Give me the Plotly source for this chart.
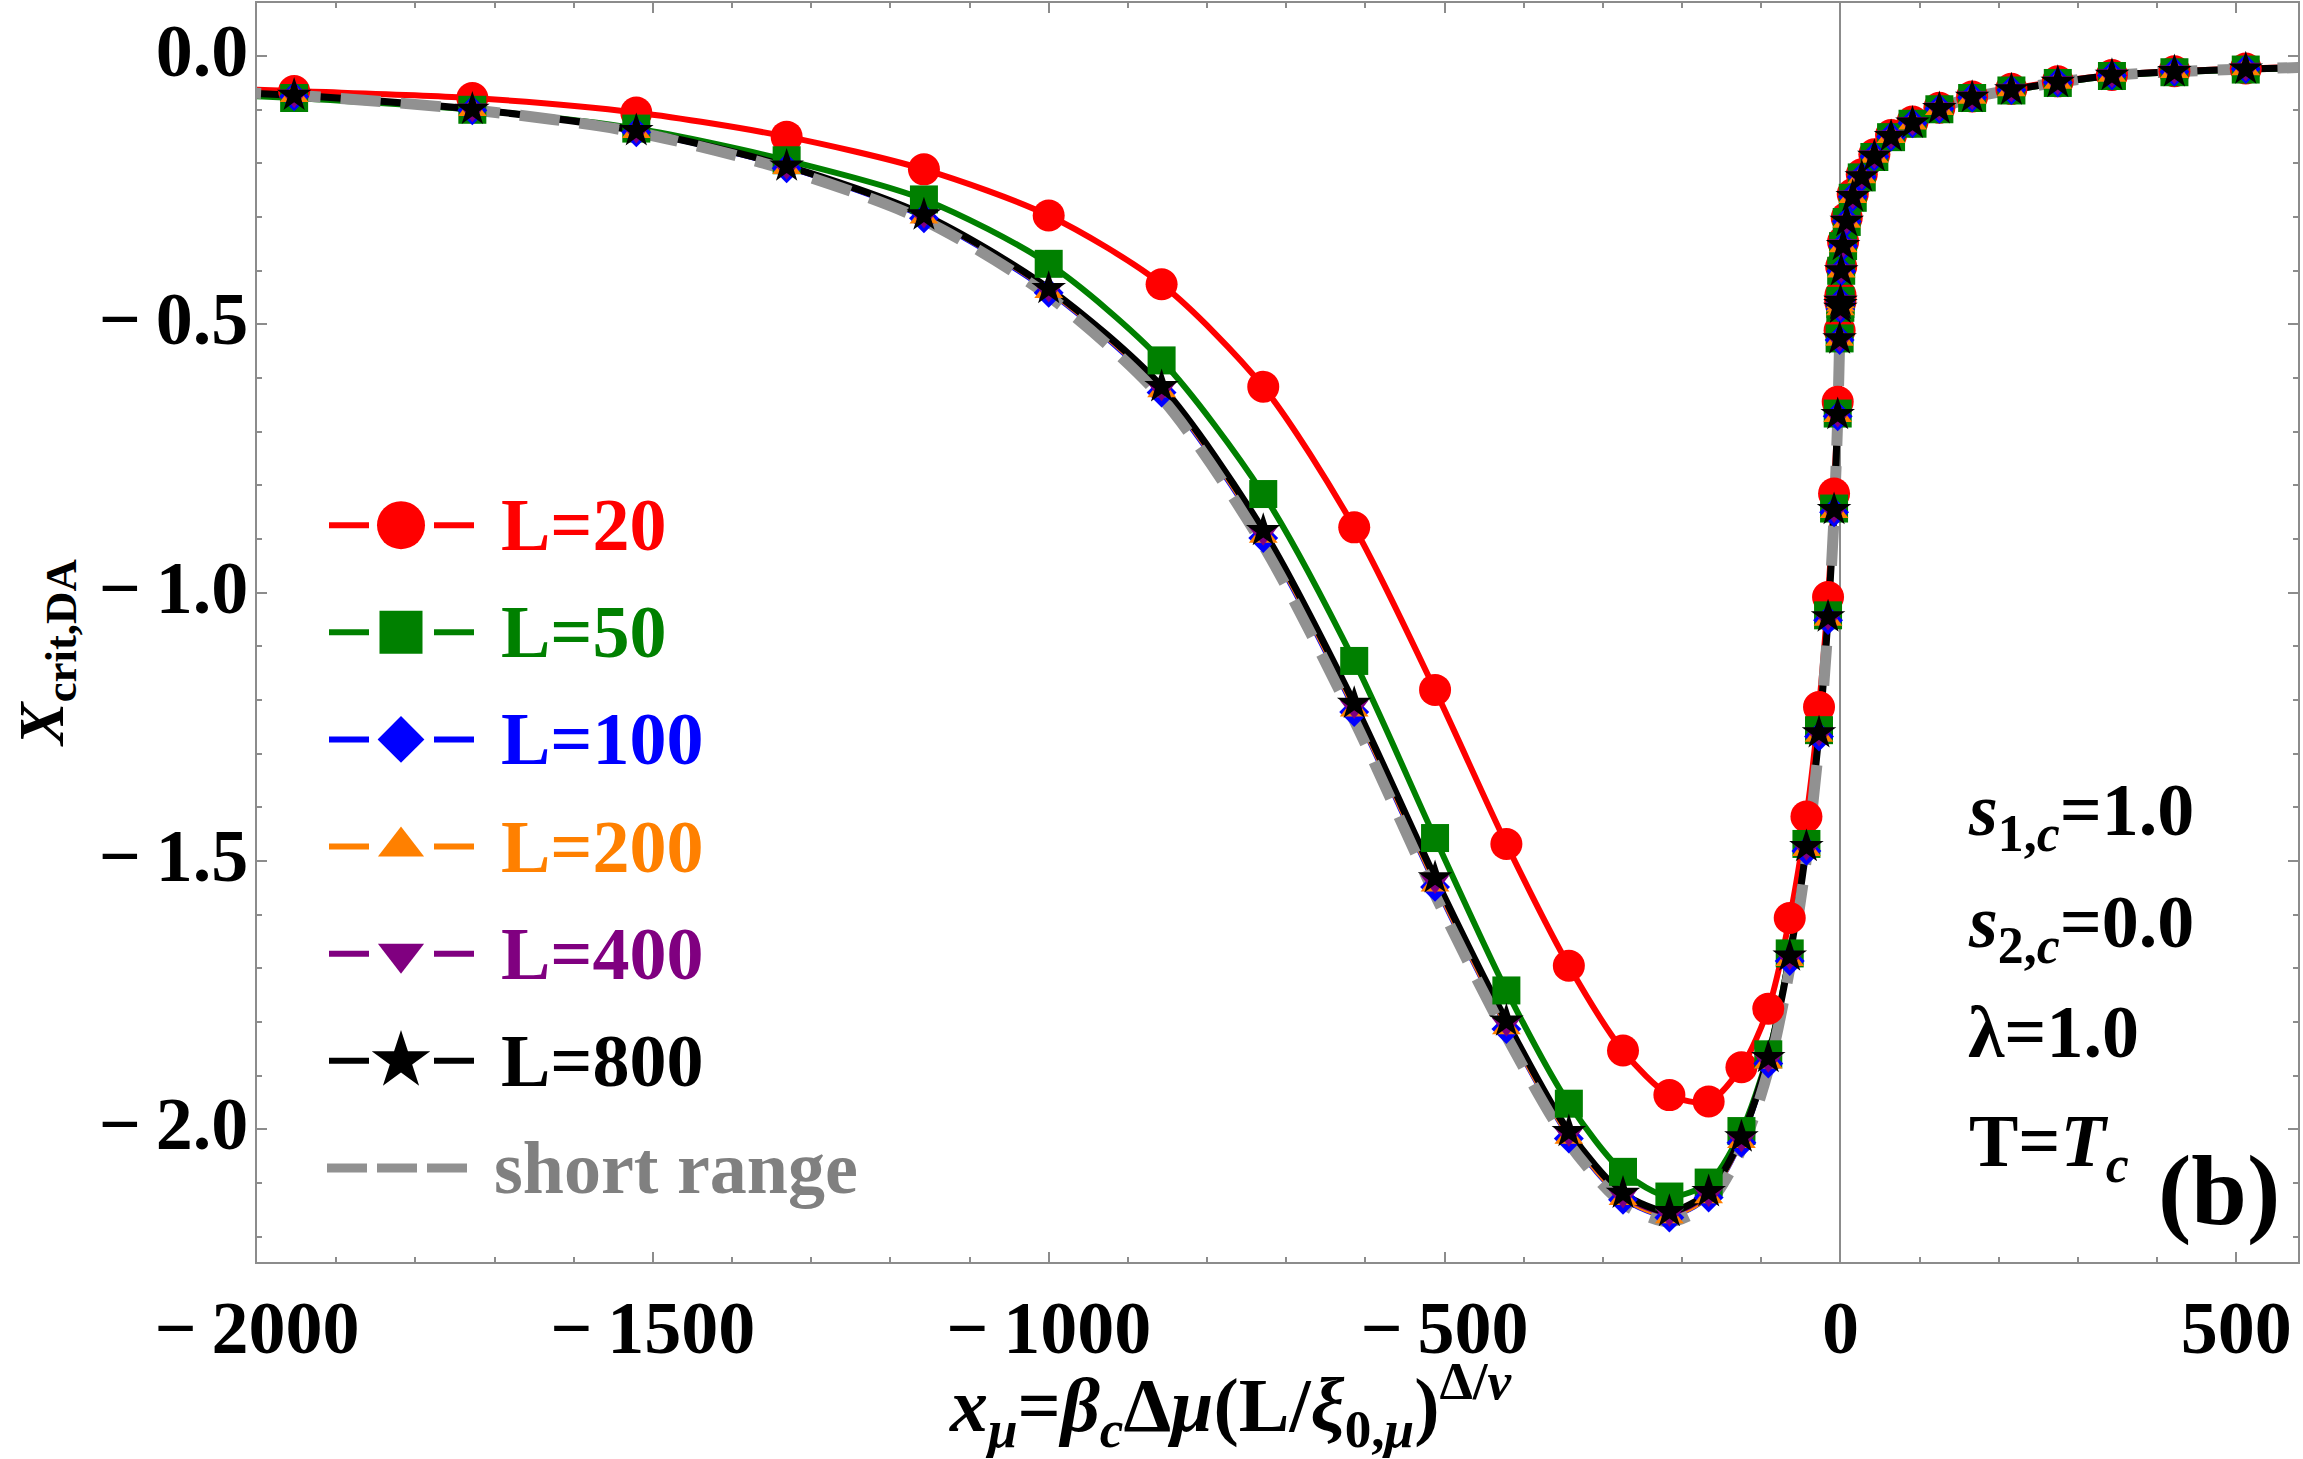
import plotly.graph_objects as go

# ---------------- data ----------------
x_mu = [-2197.0, -1953.1, -1728.0, -1520.9, -1331.0, -1157.6, -1000.0, -857.4, -729.0, -614.1,
        -512.0, -421.9, -343.0, -274.6, -216.0, -166.4, -125.0, -91.1, -64.0, -42.9,
        -27.0, -15.6, -8.0, -3.4, -1.0, -0.1, 0.0, 0.1,
        1.0, 3.4, 8.0, 15.6, 27.0, 42.9, 64.0, 91.1, 125.0, 166.4, 216.0, 274.6, 343.0, 421.9, 512.0, 614.1]

y_L20 = [-0.052, -0.065, -0.078, -0.105, -0.150, -0.211, -0.297, -0.425, -0.616, -0.878,
         -1.181, -1.468, -1.695, -1.853, -1.936, -1.948, -1.884, -1.775, -1.606, -1.417,
         -1.213, -1.008, -0.815, -0.644, -0.511, -0.458, -0.451, -0.445,
         -0.392, -0.346, -0.301, -0.257, -0.220, -0.183, -0.147, -0.122, -0.096, -0.075, -0.061, -0.047, -0.035, -0.028, -0.023, -0.019]
y_L50 = [-0.060, -0.078, -0.100, -0.135, -0.194, -0.267, -0.387, -0.567, -0.816, -1.127,
         -1.457, -1.741, -1.952, -2.079, -2.125, -2.099, -2.003, -1.860, -1.672, -1.468,
         -1.256, -1.042, -0.843, -0.666, -0.526, -0.469, -0.462, -0.456,
         -0.400, -0.354, -0.309, -0.264, -0.226, -0.188, -0.151, -0.126, -0.099, -0.078, -0.064, -0.050, -0.037, -0.030, -0.025, -0.021]
y_L100 = [-0.059, -0.075, -0.101, -0.142, -0.209, -0.302, -0.441, -0.627, -0.898, -1.222,
          -1.548, -1.813, -2.017, -2.131, -2.164, -2.127, -2.025, -1.877, -1.686, -1.481,
          -1.268, -1.051, -0.850, -0.671, -0.529, -0.471, -0.464, -0.458,
          -0.401, -0.354, -0.308, -0.262, -0.225, -0.187, -0.150, -0.125, -0.098, -0.077, -0.063, -0.049, -0.036, -0.029, -0.024, -0.020]
y_L200 = [-0.059, -0.074, -0.100, -0.141, -0.208, -0.300, -0.439, -0.624, -0.895, -1.219,
          -1.545, -1.811, -2.015, -2.129, -2.163, -2.126, -2.023, -1.875, -1.684, -1.479,
          -1.266, -1.050, -0.849, -0.670, -0.528, -0.471, -0.464, -0.458,
          -0.401, -0.354, -0.308, -0.262, -0.225, -0.187, -0.150, -0.125, -0.098, -0.077, -0.063, -0.049, -0.036, -0.029, -0.024, -0.020]
y_L400 = [-0.058, -0.074, -0.100, -0.140, -0.207, -0.298, -0.436, -0.620, -0.889, -1.212,
          -1.538, -1.804, -2.009, -2.124, -2.158, -2.121, -2.019, -1.871, -1.680, -1.476,
          -1.263, -1.047, -0.847, -0.669, -0.528, -0.470, -0.463, -0.457,
          -0.400, -0.353, -0.308, -0.262, -0.225, -0.187, -0.150, -0.125, -0.098, -0.077, -0.063, -0.049, -0.036, -0.029, -0.024, -0.020]
y_L800 = [-0.058, -0.073, -0.099, -0.139, -0.205, -0.296, -0.433, -0.616, -0.884, -1.206,
          -1.531, -1.798, -2.004, -2.119, -2.153, -2.116, -2.014, -1.866, -1.677, -1.473,
          -1.261, -1.045, -0.845, -0.668, -0.527, -0.470, -0.463, -0.457,
          -0.400, -0.353, -0.308, -0.262, -0.225, -0.187, -0.150, -0.125, -0.098, -0.077, -0.063, -0.049, -0.036, -0.029, -0.024, -0.020]
y_short = [-0.058, -0.073, -0.100, -0.142, -0.212, -0.306, -0.447, -0.637, -0.912, -1.238,
           -1.563, -1.826, -2.026, -2.138, -2.172, -2.137, -2.037, -1.890, -1.700, -1.495,
           -1.280, -1.060, -0.857, -0.676, -0.532, -0.472, -0.465, -0.459,
           -0.402, -0.355, -0.309, -0.263, -0.225, -0.187, -0.150, -0.125, -0.098, -0.077, -0.063, -0.049, -0.036, -0.029, -0.024, -0.020]

series_names = ["L=20", "L=50", "L=100", "L=200", "L=400", "L=800"]
series_values = [y_L20, y_L50, y_L100, y_L200, y_L400, y_L800]
short_name = "short range"

x_tick_vals = [-2000, -1500, -1000, -500, 0, 500]
x_tick_text = ["\u2212\u20092000", "\u2212\u20091500", "\u2212\u20091000", "\u2212\u2009500", "0", "500"]
y_tick_vals = [-2.0, -1.5, -1.0, -0.5, 0.0]
y_tick_text = ["\u2212\u20092.0", "\u2212\u20091.5", "\u2212\u20091.0", "\u2212\u20090.5", "0.0"]

# ---------------- styles / layout ----------------
W, H = 2303, 1459
PLOT_L, PLOT_R, PLOT_T, PLOT_B = 257, 2298, 1, 1262
FONT = "Liberation Serif"
FRAME = "rgb(140,140,140)"

colors = ["#ff0000", "#008000", "#0000ff", "#ff8000", "#800080", "#000000"]
symbols = ["circle", "square", "diamond", "triangle-up", "triangle-down", "star"]
msizes = [32, 28, 23, 25, 25, 26]
lwidths = [6, 6, 3, 3, 4, 7]
leg_msizes = [48, 43, 36, 40, 40, 44]
GRAY = "rgb(145,145,145)"

def px_x(x):
    return (x - PLOT_L) / (PLOT_R - PLOT_L)

def px_y(y):
    return (PLOT_B - y) / (PLOT_B - PLOT_T)

fig = go.Figure()

# curves
for name, yv, c, w in zip(series_names, series_values, colors, lwidths):
    fig.add_trace(go.Scatter(x=x_mu, y=yv, mode="lines", name=name,
                             line=dict(color=c, width=w, shape="spline", smoothing=0.8),
                             hoverinfo="skip"))
fig.add_trace(go.Scatter(x=x_mu, y=y_short, mode="lines", name=short_name,
                         line=dict(color=GRAY, width=11, dash="40px,20px", shape="spline", smoothing=0.8)))
# markers
for name, yv, c, s, ms in zip(series_names, series_values, colors, symbols, msizes):
    fig.add_trace(go.Scatter(x=x_mu, y=yv, mode="markers", name=name,
                             marker=dict(color=c, symbol=s, size=ms, line=dict(width=0))))

# ---------------- custom legend (pixel-space overlay axes) ----------------
LEG_ROW0, LEG_DY = 524, 107.3
LEG_SEG = [(329, 369), (434, 474)]
LEG_MX = 401
LEG_TX = 499
LEG_FONT = 74
for i, (name, c, s, ms) in enumerate(zip(series_names, colors, symbols, leg_msizes)):
    ry = LEG_ROW0 + i * LEG_DY
    fig.add_trace(go.Scatter(x=[LEG_SEG[0][0], LEG_SEG[0][1], None, LEG_SEG[1][0], LEG_SEG[1][1]],
                             y=[ry, ry, None, ry, ry], mode="lines", xaxis="x2", yaxis="y2",
                             line=dict(color=c, width=6), hoverinfo="skip"))
    fig.add_trace(go.Scatter(x=[LEG_MX], y=[ry], mode="markers", xaxis="x2", yaxis="y2",
                             marker=dict(color=c, symbol=s, size=ms, line=dict(width=0)), hoverinfo="skip"))
    fig.add_annotation(x=px_x(LEG_TX), y=px_y(ry), xref="paper", yref="paper", text="<b>%s</b>" % name,
                       showarrow=False, xanchor="left", yanchor="middle",
                       font=dict(family=FONT, size=LEG_FONT, color=c))
ry = LEG_ROW0 + 6 * LEG_DY
fig.add_trace(go.Scatter(x=[327, 467], y=[ry, ry], mode="lines", xaxis="x2", yaxis="y2",
                         line=dict(color=GRAY, width=9, dash="40px,10px"), hoverinfo="skip"))
fig.add_annotation(x=px_x(492), y=px_y(ry), xref="paper", yref="paper", text="<b>%s</b>" % short_name,
                   showarrow=False, xanchor="left", yanchor="middle",
                   font=dict(family=FONT, size=LEG_FONT, color="rgb(128,128,128)"))

# ---------------- parameter annotations ----------------
params = [
    ("<b><i>s</i><sub>1,<i>c</i></sub>=1.0</b>", 1966, 815),
    ("<b><i>s</i><sub>2,<i>c</i></sub>=0.0</b>", 1966, 927),
    ("<b>\u03bb=1.0</b>", 1966, 1032),
    ("<b>T=<i>T</i><sub><i>c</i></sub></b>", 1967, 1146),
]
for t, xx, yy in params:
    fig.add_annotation(x=px_x(xx), y=px_y(yy), xref="paper", yref="paper", text=t, showarrow=False,
                       xanchor="left", yanchor="middle", font=dict(family=FONT, size=74, color="black"))
fig.add_annotation(x=px_x(2219), y=px_y(1190), xref="paper", yref="paper", text="<b>(b)</b>", showarrow=False,
                   xanchor="center", yanchor="middle", font=dict(family=FONT, size=100, color="black"))

# axis titles
fig.add_annotation(x=px_x(1231), y=px_y(1406), xref="paper", yref="paper",
                   text="<b><i>x</i><sub><i>\u03bc</i></sub>=<i>\u03b2</i><sub><i>c</i></sub>\u0394<i>\u03bc</i>(L/<i>\u03be</i><sub>0,<i>\u03bc</i></sub>)<sup>\u0394/<i>\u03bd</i></sup></b>",
                   showarrow=False, xanchor="center", yanchor="middle",
                   font=dict(family=FONT, size=76, color="black"))
fig.add_annotation(x=px_x(46), y=px_y(652), xref="paper", yref="paper",
                   text="<b><i>X</i><sub>crit,DA</sub></b>", textangle=-90,
                   showarrow=False, xanchor="center", yanchor="middle",
                   font=dict(family=FONT, size=64, color="black"))

tickfont = dict(family=FONT, size=74, color="black", weight="bold")
fig.update_layout(
    width=W, height=H,
    margin=dict(l=PLOT_L, r=W - PLOT_R, t=PLOT_T, b=H - PLOT_B, pad=0),
    plot_bgcolor="white", paper_bgcolor="white", showlegend=False,
    font=dict(family=FONT, color="black"),
    xaxis=dict(range=[-2000, 578], showline=True, linecolor=FRAME, linewidth=2, mirror="allticks",
               ticks="inside", ticklen=10, tickwidth=1.5, tickcolor=FRAME,
               tickmode="array", tickvals=x_tick_vals, ticktext=x_tick_text, tickfont=tickfont,
               ticklabelstandoff=0,
               showgrid=False, zeroline=True, zerolinecolor=FRAME, zerolinewidth=1.5,
               minor=dict(ticks="inside", ticklen=5, tickwidth=1.5, tickcolor=FRAME,
                          tickmode="linear", tick0=0, dtick=100, showgrid=False)),
    yaxis=dict(range=[-2.247, 0.099], showline=True, linecolor=FRAME, linewidth=2, mirror="allticks",
               ticks="inside", ticklen=10, tickwidth=1.5, tickcolor=FRAME,
               tickmode="array", tickvals=y_tick_vals, ticktext=y_tick_text, tickfont=tickfont,
               ticklabelstandoff=-8, ticklabelshift=-6,
               showgrid=False, zeroline=False,
               minor=dict(ticks="inside", ticklen=5, tickwidth=1.5, tickcolor=FRAME,
                          tickmode="linear", tick0=0, dtick=0.1, showgrid=False)),
    xaxis2=dict(overlaying="x", anchor="y2", range=[PLOT_L, PLOT_R], visible=False, fixedrange=True),
    yaxis2=dict(overlaying="y", anchor="x2", range=[PLOT_B, PLOT_T], visible=False, fixedrange=True),
)

fig.write_html("out.html")
